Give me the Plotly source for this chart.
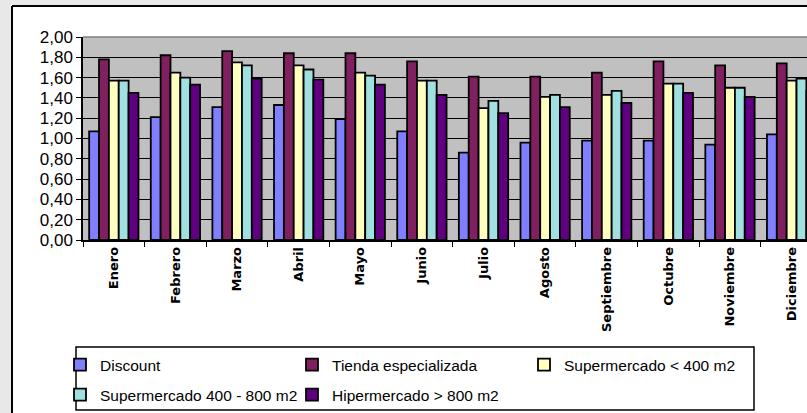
import plotly.graph_objects as go

# Months on the x axis
months = ["Enero", "Febrero", "Marzo", "Abril", "Mayo", "Junio", "Julio",
          "Agosto", "Septiembre", "Octubre", "Noviembre", "Diciembre"]

# One list per sales channel
discount = [1.07, 1.21, 1.31, 1.33, 1.19, 1.07, 0.86, 0.96, 0.98, 0.98, 0.94, 1.04]
tienda = [1.78, 1.82, 1.86, 1.84, 1.84, 1.76, 1.61, 1.61, 1.65, 1.76, 1.72, 1.74]
super_400 = [1.57, 1.65, 1.75, 1.72, 1.65, 1.57, 1.30, 1.41, 1.43, 1.54, 1.50, 1.57]
super_400_800 = [1.57, 1.60, 1.72, 1.68, 1.62, 1.57, 1.37, 1.43, 1.47, 1.54, 1.50, 1.59]
hiper = [1.45, 1.53, 1.59, 1.58, 1.53, 1.43, 1.25, 1.31, 1.35, 1.45, 1.41, 1.47]

series = [
    ("Discount", discount, "#8080ff", "legend"),
    ("Tienda especializada", tienda, "#802060", "legend"),
    ("Supermercado < 400 m2", super_400, "#ffffc0", "legend"),
    ("Supermercado 400 - 800 m2", super_400_800, "#a0e0e0", "legend2"),
    ("Hipermercado > 800 m2", hiper, "#600080", "legend2"),
]

W, H = 807, 413
L, T, B = 83, 37, 173
plot_w = W - L
plot_h = H - T - B


def px_x(p):
    return (p - L) / plot_w


def px_y(p):
    return (H - B - p) / plot_h


fig = go.Figure()
for name, vals, color, leg in series:
    fig.add_trace(go.Bar(
        x=months, y=vals, name=name,
        marker=dict(color=color, line=dict(color="black", width=1.8)),
        legend=leg,
    ))

legend_common = dict(
    orientation="h",
    entrywidth=187,
    entrywidthmode="pixels",
    xanchor="left",
    yanchor="middle",
    font=dict(family="Liberation Sans, Arial", size=15.5, color="black"),
    bgcolor="rgba(0,0,0,0)",
    borderwidth=0,
)

fig.update_layout(
    width=W, height=H,
    margin=dict(l=L, r=0, t=T, b=B),
    paper_bgcolor="white",
    plot_bgcolor="#c0c0c0",
    separators=",.",
    barmode="group",
    bargap=0.2,
    bargroupgap=0,
    legend=dict(x=px_x(60), y=px_y(365), **legend_common),
    legend2=dict(x=px_x(60), y=px_y(395), **legend_common),
    showlegend=True,
)

fig.update_yaxes(
    range=[0, 2], dtick=0.2, tickformat=".2f",
    showgrid=True, gridcolor="black", gridwidth=1,
    zeroline=False,
    showline=True, linecolor="black", linewidth=1.5,
    ticks="outside", ticklen=5, tickcolor="black",
    tickfont=dict(family="Liberation Sans, Arial", size=17, color="black"),
)
fig.update_xaxes(
    range=[-0.5, 11.25],
    tickangle=-90, tickson="boundaries",
    ticks="outside", ticklen=5, tickcolor="black",
    showline=True, linecolor="black", linewidth=1.5,
    showgrid=False,
    tickfont=dict(family="DejaVu Sans", size=13, color="black", weight="bold"),
)

# Chart frame: grey page strips plus black border, and the legend box
fig.add_shape(type="rect", xref="paper", yref="paper",
              x0=px_x(-5), x1=px_x(11), y0=px_y(H + 5), y1=px_y(-5),
              fillcolor="#e8e8e8", line_width=0, layer="above")
fig.add_shape(type="rect", xref="paper", yref="paper",
              x0=px_x(-5), x1=px_x(W + 5), y0=px_y(5), y1=px_y(-5),
              fillcolor="#e8e8e8", line_width=0, layer="above")
fig.add_shape(type="line", xref="paper", yref="paper",
              x0=px_x(12), x1=px_x(12), y0=px_y(6), y1=px_y(H + 5),
              line=dict(color="black", width=2), layer="above")
fig.add_shape(type="line", xref="paper", yref="paper",
              x0=px_x(12), x1=px_x(W + 5), y0=px_y(6), y1=px_y(6),
              line=dict(color="black", width=2), layer="above")
fig.add_shape(type="line", xref="paper", yref="paper",
              x0=0, x1=1, y0=1, y1=1,
              line=dict(color="#808080", width=1.5), layer="above")
fig.add_shape(type="rect", xref="paper", yref="paper",
              x0=px_x(76), x1=px_x(754), y0=px_y(410), y1=px_y(347),
              line=dict(color="black", width=1.5), layer="above")

# drop the browser's default page margin so the figure sits at the window corner
fig.write_html(
    "out.html",
    config={"displayModeBar": False},
    post_script="document.body.style.margin='0';document.body.style.overflow='hidden';",
)
